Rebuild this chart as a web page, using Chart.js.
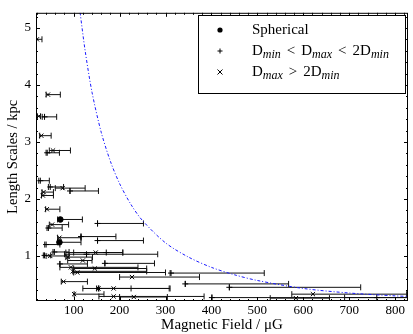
<html lang="en">
<head>
    <meta charset="utf-8">
    <title>Length scales vs magnetic field</title>
    <style>
        body { margin: 0; background: #fff; }
        #box { position: relative; width: 413px; height: 334px; }
    </style>
</head>
<body>
<div id="box"><canvas id="myChart" width="413" height="334"></canvas></div>
<script src="https://cdn.jsdelivr.net/npm/chart.js"></script>
<script>
// tick labels
var xTicks = [100, 200, 300, 400, 500, 600, 700, 800];
var yTicks = [1, 2, 3, 4, 5];

// spherical sources (B, lower B, upper B, L)
var sphB  = [71, 69];
var sphLo = [65, 65];
var sphHi = [119, 116];
var sphL  = [1.64, 1.24];

// Dmin < Dmax < 2Dmin
var midB  = [36.6, 42.4, 27.4, 49, 92, 152, 45, 116, 152, 40, 36.6, 58, 128, 171, 70, 168, 312, 343, 439, 155, 401, 760];
var midLo = [31.6, 40, 24, 45, 92, 152, 42, 116, 152, 37, 34, 55, 80, 100, 70, 168, 310, 343, 439, 120, 401, 690];
var midHi = [63, 69, 47, 78, 154, 252, 75, 192, 252, 70, 50, 90, 283, 207, 130, 276, 515, 568, 725, 310, 830, 830];
var midL  = [3.44, 2.81, 2.32, 2.21, 2.14, 1.57, 1.49, 1.34, 1.27, 1.20, 1.01, 1.07, 1.03, 1.06, 0.86, 0.87, 0.70, 0.51, 0.45, 0.43, 0.27, 0.27];

// Dmax > 2Dmin
var elB  = [20, 44, 24, 29.5, 55, 76, 34.5, 33, 41.6, 53, 69, 49, 87, 148, 94, 146, 98, 108, 227, 78, 154, 187, 101, 187, 231, 621, 584, 120];
var elLo = [17, 40, 21, 26, 47, 60, 31, 30, 39, 47, 65, 40, 83, 83, 70, 100, 98, 100, 200, 73, 150, 154, 101, 155, 200, 575, 528, 87];
var elHi = [31, 71, 28, 51, 93, 125, 56, 56, 70, 89, 116, 90, 141, 207, 240, 259, 259, 300, 374, 130, 225, 308, 166, 384, 304, 825, 657, 140];
var elL  = [4.80, 3.83, 3.45, 3.11, 2.85, 2.19, 2.12, 2.06, 1.82, 1.55, 1.32, 1.00, 0.98, 1.06, 0.80, 0.78, 0.73, 0.71, 0.63, 0.55, 0.43, 0.43, 0.33, 0.29, 0.28, 0.33, 0.26, 0.92];

// limiting curve
var curveB = [114, 125, 140, 160, 180, 200, 225, 250, 300, 350, 400, 450, 500, 600, 700, 800, 830];
var curveL = [5.27, 4.6, 3.87, 3.17, 2.66, 2.27, 1.9, 1.62, 1.23, 0.98, 0.80, 0.67, 0.57, 0.43, 0.35, 0.30, 0.29];

var serif = "'Liberation Serif', 'DejaVu Serif', serif";
Chart.defaults.font.family = serif;
Chart.defaults.color = '#000';

function points(b, lo, hi, l) {
    return b.map(function (v, i) { return { x: v, y: l[i], lo: lo[i], hi: hi[i] }; });
}

// horizontal error bars with end caps
var errorBars = {
    id: 'errorBars',
    beforeDatasetsDraw: function (chart) {
        var ctx = chart.ctx, xs = chart.scales.x, ys = chart.scales.y, a = chart.chartArea;
        ctx.save();
        ctx.beginPath();
        ctx.rect(a.left, a.top, a.right - a.left, a.bottom - a.top);
        ctx.clip();
        ctx.strokeStyle = '#111';
        ctx.lineWidth = 1;
        chart.data.datasets.forEach(function (ds) {
            ds.data.forEach(function (p) {
                if (p.lo === undefined) return;
                var y = ys.getPixelForValue(p.y);
                var x0 = xs.getPixelForValue(p.lo), x1 = xs.getPixelForValue(p.hi);
                ctx.beginPath();
                ctx.moveTo(x0, y); ctx.lineTo(x1, y);
                ctx.moveTo(x0, y - 3); ctx.lineTo(x0, y + 3);
                ctx.moveTo(x1, y - 3); ctx.lineTo(x1, y + 3);
                ctx.stroke();
            });
        });
        ctx.restore();
    }
};

// plot frame with inward ticks on all four sides
var frame = {
    id: 'frame',
    afterDatasetsDraw: function (chart) {
        var ctx = chart.ctx, xs = chart.scales.x, ys = chart.scales.y, a = chart.chartArea;
        ctx.save();
        ctx.strokeStyle = '#000';
        ctx.lineWidth = 1;
        ctx.strokeRect(a.left + 0.5, a.top + 0.5, a.right - a.left - 1, a.bottom - a.top - 1);
        ctx.beginPath();
        for (var v = 20; v < 830; v += 20) {
            var len = (v % 100 === 0) ? 4 : 2;
            var px = Math.round(xs.getPixelForValue(v)) + 0.5;
            ctx.moveTo(px, a.bottom); ctx.lineTo(px, a.bottom - len);
            ctx.moveTo(px, a.top); ctx.lineTo(px, a.top + len);
        }
        for (var k = 2; k <= 26; k++) {
            var val = k / 5;
            var len2 = (k % 5 === 0) ? 4 : 2;
            var py = Math.round(ys.getPixelForValue(val)) + 0.5;
            ctx.moveTo(a.left, py); ctx.lineTo(a.left + len2, py);
            ctx.moveTo(a.right, py); ctx.lineTo(a.right - len2, py);
        }
        ctx.stroke();
        ctx.restore();
    }
};

// legend box with subscripted labels; 0 = text, 1 = subscript, 2 = relation sign
var legendBox = {
    id: 'legendBox',
    afterDraw: function (chart) {
        var ctx = chart.ctx;
        var bx = 198, by = 15, bw = 207, bh = 78;
        ctx.save();
        ctx.fillStyle = '#fff';
        ctx.fillRect(bx, by, bw, bh);
        ctx.strokeStyle = '#000';
        ctx.lineWidth = 1;
        ctx.strokeRect(bx + 0.5, by + 0.5, bw, bh);

        var rows = [
            [['Spherical', 0]],
            [['D', 0], ['min', 1], ['<', 2], ['D', 0], ['max', 1], ['<', 2], ['2D', 0], ['min', 1]],
            [['D', 0], ['max', 1], ['>', 2], ['2D', 0], ['min', 1]]
        ];
        var ys = [30, 51, 72];
        ctx.fillStyle = '#000';
        ctx.textBaseline = 'middle';
        rows.forEach(function (parts, r) {
            var x = 252;
            parts.forEach(function (p) {
                ctx.font = p[1] === 1 ? 'italic 12px ' + serif : '15px ' + serif;
                if (p[1] === 2) x += 6;
                ctx.fillText(p[0], x, ys[r] + (p[1] === 1 ? 4 : 0));
                x += ctx.measureText(p[0]).width;
                if (p[1] === 2) x += 6;
            });
        });

        // symbols
        ctx.beginPath();
        ctx.arc(220, ys[0], 2.6, 0, Math.PI * 2);
        ctx.fill();
        ctx.beginPath();
        ctx.moveTo(217.5, ys[1]); ctx.lineTo(222.5, ys[1]);
        ctx.moveTo(220, ys[1] - 2.5); ctx.lineTo(220, ys[1] + 2.5);
        ctx.moveTo(217.5, ys[2] - 2.5); ctx.lineTo(222.5, ys[2] + 2.5);
        ctx.moveTo(222.5, ys[2] - 2.5); ctx.lineTo(217.5, ys[2] + 2.5);
        ctx.stroke();
        ctx.restore();
    }
};

new Chart('myChart', {
    type: 'scatter',
    data: {
        datasets: [{
            label: 'limit',
            data: curveB.map(function (b, i) { return { x: b, y: curveL[i] }; }),
            showLine: true,
            borderColor: '#1a1aff',
            borderWidth: 1,
            borderDash: [3, 2, 1, 2],
            pointRadius: 0,
            tension: 0.3
        }, {
            label: 'Spherical',
            data: points(sphB, sphLo, sphHi, sphL),
            pointStyle: 'circle',
            pointRadius: 2.8,
            backgroundColor: '#000',
            borderColor: '#000',
            borderWidth: 1
        }, {
            label: 'Dmin < Dmax < 2Dmin',
            data: points(midB, midLo, midHi, midL),
            pointStyle: 'cross',
            pointRadius: 3,
            borderColor: '#000',
            borderWidth: 1
        }, {
            label: 'Dmax > 2Dmin',
            data: points(elB, elLo, elHi, elL),
            pointStyle: 'crossRot',
            pointRadius: 3,
            borderColor: '#000',
            borderWidth: 1
        }]
    },
    options: {
        responsive: false,
        animation: false,
        layout: { padding: { top: 7, right: 1, left: 0, bottom: 0 } },
        plugins: {
            legend: { display: false },
            tooltip: { enabled: false }
        },
        scales: {
            x: {
                type: 'linear',
                min: 18,
                max: 828,
                grid: { display: false, drawTicks: false },
                border: { display: false },
                afterBuildTicks: function (s) { s.ticks = xTicks.map(function (v) { return { value: v }; }); },
                afterFit: function (s) { s.height = 33; },
                ticks: { font: { size: 13 }, padding: 2, autoSkip: false, maxRotation: 0 },
                title: { display: true, text: 'Magnetic Field / \u03bcG', font: { size: 15 }, padding: { top: 0, bottom: 0 } }
            },
            y: {
                min: 0.21,
                max: 5.265,
                grid: { display: false, drawTicks: false },
                border: { display: false },
                afterBuildTicks: function (s) { s.ticks = yTicks.map(function (v) { return { value: v }; }); },
                afterFit: function (s) { s.width = 36; },
                ticks: { font: { size: 13 }, padding: 5, autoSkip: false },
                title: { display: true, text: 'Length Scales / kpc', font: { size: 14.5 }, padding: { top: 4, bottom: 0 } }
            }
        }
    },
    plugins: [errorBars, frame, legendBox]
});
</script>
</body>
</html>
